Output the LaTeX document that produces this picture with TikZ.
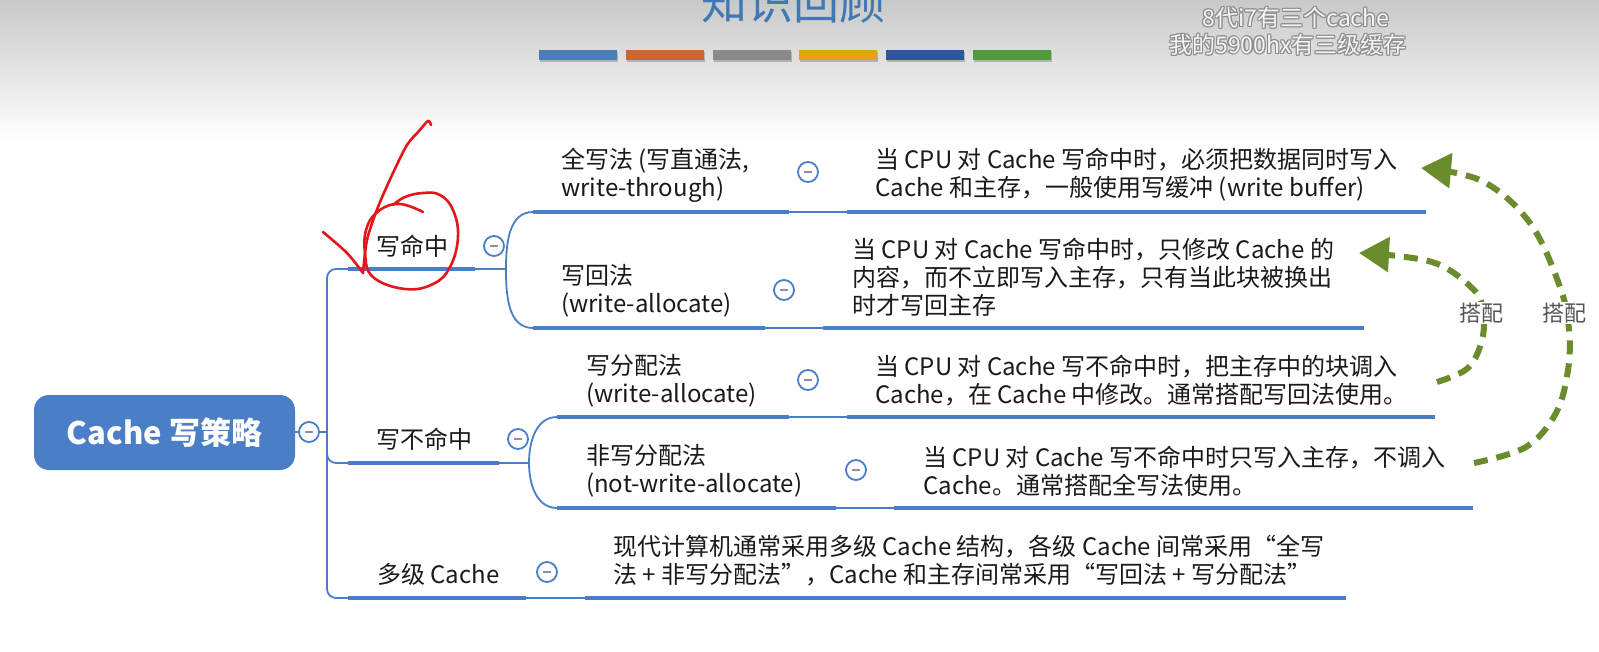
\documentclass[tikz,border=0pt]{standalone}
\usepackage{fontspec}
\setmainfont{Noto Sans CJK SC}
\usetikzlibrary{arrows.meta,calc}
\usepackage{xcolor}
\definecolor{mmBlue}{HTML}{4A7EC7}
\definecolor{mmMinus}{HTML}{8A8FB0}
\definecolor{mmInk}{HTML}{1A1A1A}
\definecolor{mmGreen}{HTML}{6B8C2C}
\definecolor{mmGray}{HTML}{555555}
\definecolor{annRed}{HTML}{E3171B}
\definecolor{bgTop}{HTML}{C9C9C9}
\definecolor{ttlBlue}{HTML}{3F78B5}
\definecolor{barA}{HTML}{4A7EBB}
\definecolor{barB}{HTML}{D0652B}
\definecolor{barC}{HTML}{8A8A8A}
\definecolor{barD}{HTML}{E0A414}
\definecolor{barE}{HTML}{2F55A2}
\definecolor{barF}{HTML}{4F9A3D}
\definecolor{subEdge}{HTML}{8C8C8C}
\tikzset{
  topic/.style={anchor=west, inner sep=0pt, font=\fontsize{24}{28}\selectfont, text=mmInk, align=left},
  rootbox/.style={fill=mmBlue, rounded corners=15pt, minimum width=261pt, minimum height=75pt, text=white, font=\fontsize{31}{34}\selectfont\bfseries},
  fold/.style={circle, draw=mmBlue, line width=1.8pt, fill=white, minimum size=20pt, inner sep=0pt,
    path picture={\draw[mmMinus, line width=1.5pt] ([xshift=-4pt]path picture bounding box.center) -- ([xshift=4pt]path picture bounding box.center);}},
  uline/.style={draw=mmBlue, line width=4.8pt},
  link/.style={draw=mmBlue, line width=1.8pt},
  pair/.style={draw=mmGreen, line width=6pt, dash pattern=on 14pt off 9pt, -{Triangle[length=30pt,width=34pt]}},
  pairlbl/.style={fill=white, inner sep=1pt, font=\fontsize{22}{24}\selectfont, text=mmGray},
  ink/.style={draw=annRed, line width=2.6pt, line cap=round, line join=round},
  subtl/.style={inner sep=0pt, font=\fontsize{23}{26}\selectfont},
}

\begin{document}
\begin{tikzpicture}[x=1pt,y=1pt]
  \clip (0,0) rectangle (1599,-652);
  \fill[white] (0,0) rectangle (1599,-652);
  \shade[top color=bgTop, bottom color=white] (0,0) rectangle (1599,-140);

  % slide header
  \node[font=\fontsize{46}{50}\selectfont, text=ttlBlue] (title) at (793,-2) {知识回顾};
  \foreach \c [count=\i from 0] in {barA,barB,barC,barD,barE,barF} {
    \fill[black!30] (540+86.8*\i,-52) rectangle (618+86.8*\i,-62);
    \fill[\c] (539+86.8*\i,-50) rectangle (617+86.8*\i,-60);
  }
  \foreach \dx/\dy [count=\k] in {1.2/0,-1.2/0,0/1.2,0/-1.2,.8/.8,-.8/.8,.8/-.8,-.8/-.8} {
    \node[subtl, text=subEdge] (subA-\k) at (1296+\dx,-18+\dy) {8代i7有三个cache};
    \node[subtl, text=subEdge] (subB-\k) at (1288+\dx,-45+\dy) {我的5900hx有三级缓存};
  }
  \node[subtl, text=white!96!black] (subA) at (1296,-18) {8代i7有三个cache};
  \node[subtl, text=white!96!black] (subB) at (1288,-45) {我的5900hx有三级缓存};

  % root
  \node[rootbox] (root) at (164.5,-432.5) {Cache 写策略};
  \node[fold] (rootfold) at (309,-432) {};
  \coordinate (tr) at (327,-432);

  % first level
  \node[topic] (whit) at (376,-246) {写命中};
  \node[topic] (wmiss) at (376,-439) {写不命中};
  \node[topic] (mlc) at (377,-574) {多级 Cache};
  \coordinate (whit-l) at (348,-269);
  \coordinate (whit-r) at (475,-269);
  \coordinate (whit-j) at (506,-269);
  \coordinate (wmiss-l) at (348,-463);
  \coordinate (wmiss-r) at (499,-463);
  \coordinate (wmiss-j) at (529,-463);
  \coordinate (mlc-l) at (348,-598);
  \coordinate (mlc-r) at (526,-598);

  \draw[link] (root) -- (rootfold) -- (tr);
  \draw[link, rounded corners=9pt] (whit-l) -| (tr) |- (mlc-l);
  \draw[link, rounded corners=9pt] (tr) |- (wmiss-l);
  \draw[uline] (whit-l) -- (whit-r);
  \draw[uline] (wmiss-l) -- (wmiss-r);
  \draw[uline] (mlc-l) -- (mlc-r);
  \node[fold] (whitfold) at (494,-246) {};
  \node[fold] (wmissfold) at (518,-439) {};
  \node[fold] (mlcfold) at (547,-572) {};

  % second level
  \node[topic] (wt) at (561,-175) {全写法 (写直通法,\\write-through)};
  \node[topic] (wb) at (561,-290.5) {写回法\\(write-allocate)};
  \node[topic] (wa) at (586,-381) {写分配法\\(write-allocate)};
  \node[topic] (nwa) at (586,-471) {非写分配法\\(not-write-allocate)};
  \coordinate (wt-l) at (533,-212);   \coordinate (wt-r) at (789,-212);
  \coordinate (wb-l) at (533,-328);   \coordinate (wb-r) at (765,-328);
  \coordinate (wa-l) at (557,-417);   \coordinate (wa-r) at (789,-417);
  \coordinate (nwa-l) at (557,-508);  \coordinate (nwa-r) at (836,-508);

  \draw[link] (whit-r) -- (whit-j) to[out=90,in=180] (wt-l);
  \draw[link] (whit-j) to[out=-90,in=180] (wb-l);
  \draw[link] (wmiss-r) -- (wmiss-j) to[out=90,in=180] (wa-l);
  \draw[link] (wmiss-j) to[out=-90,in=180] (nwa-l);
  \foreach \n in {wt,wb,wa,nwa} \draw[uline] (\n-l) -- (\n-r);
  \node[fold] (wtfold) at (808,-172) {};
  \node[fold] (wbfold) at (784,-290) {};
  \node[fold] (wafold) at (808,-380) {};
  \node[fold] (nwafold) at (856,-470) {};

  % notes
  \node[topic] (dwt) at (875,-175) {当 CPU 对 Cache 写命中时，必须把数据同时写入\\Cache 和主存，一般使用写缓冲 (write buffer)};
  \node[topic] (dwb) at (852,-277) {当 CPU 对 Cache 写命中时，只修改 Cache 的\\内容，而不立即写入主存，只有当此块被换出\\时才写回主存};
  \node[topic] (dwa) at (875,-381) {当 CPU 对 Cache 写不命中时，把主存中的块调入\\Cache，在 Cache 中修改。通常搭配写回法使用。};
  \node[topic] (dnwa) at (923,-471) {当 CPU 对 Cache 写不命中时只写入主存，不调入\\Cache。通常搭配全写法使用。};
  \node[topic] (dmlc) at (613,-561) {现代计算机通常采用多级 Cache 结构，各级 Cache 间常采用“全写\\法 + 非写分配法”，Cache 和主存间常采用“写回法 + 写分配法”};
  \coordinate (dwt-l) at (847,-212);   \coordinate (dwt-r) at (1426,-212);
  \coordinate (dwb-l) at (823,-328);   \coordinate (dwb-r) at (1364,-328);
  \coordinate (dwa-l) at (847,-417);   \coordinate (dwa-r) at (1435,-417);
  \coordinate (dnwa-l) at (894,-508);  \coordinate (dnwa-r) at (1473,-508);
  \coordinate (dmlc-l) at (585,-598);  \coordinate (dmlc-r) at (1346,-598);
  \draw[link] (wt-r) -- (dwt-l);
  \draw[link] (wb-r) -- (dwb-l);
  \draw[link] (wa-r) -- (dwa-l);
  \draw[link] (nwa-r) -- (dnwa-l);
  \draw[link] (mlc-r) -- (dmlc-l);
  \foreach \n in {dwt,dwb,dwa,dnwa,dmlc} \draw[uline] (\n-l) -- (\n-r);

  % pairing arrows
  \coordinate (p1s) at (1437,-382);
  \coordinate (p1e) at (1359,-253);
  \coordinate (p2s) at (1474,-463);
  \coordinate (p2e) at (1421,-168);
  \draw[pair] plot[smooth, tension=0.6] coordinates {(p1s) (1468,-368) (1482,-340) (1483,-313) (1474,-290) (1432,-262) (p1e)};
  \draw[pair] plot[smooth, tension=0.6] coordinates {(p2s) (1526,-447) (1556,-413) (1568,-370) (1569,-330) (1560,-287) (1530,-223) (1482,-181) (p2e)};
  \node[pairlbl] (pl1) at (1481,-313) {搭配};
  \node[pairlbl] (pl2) at (1564,-313) {搭配};

  % red pen marks
  \draw[ink] plot[smooth, tension=0.7] coordinates {(423,-212) (400,-204) (380,-210) (367,-227) (365,-253) (373,-277) (405,-289) (433,-284) (450,-267) (458,-237) (453,-210) (440,-195) (423,-193) (405,-197) (393,-205)};
  \draw[ink] plot[smooth] coordinates {(431,-125) (428,-121) (419,-131) (407,-145) (393,-173) (378,-207) (367,-240) (363,-273)};
  \draw[ink] plot[smooth] coordinates {(323,-232) (347,-253) (363,-273)};
\end{tikzpicture}
\end{document}
